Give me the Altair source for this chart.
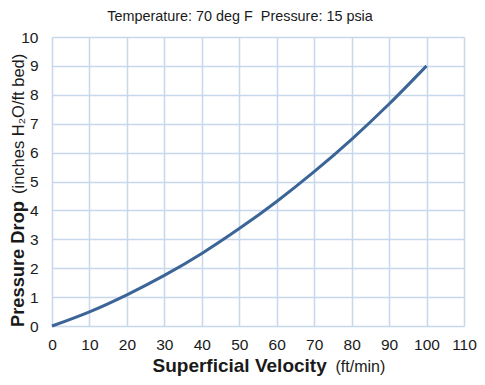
import altair as alt
import pandas as pd

# Data
velocity = [0, 10, 20, 30, 40, 50, 60, 70, 80, 90, 100]
pressure_drop = [0.0, 0.49, 1.08, 1.75, 2.51, 3.37, 4.31, 5.34, 6.46, 7.68, 9.0]
x_ticks = list(range(0, 111, 10))
y_ticks = list(range(0, 11, 1))

title_text = "Temperature: 70 deg F \u00a0Pressure: 15 psia"
y_title_bold = "Pressure Drop"
y_title_reg = "(inches H\u2082O/ft bed)"
x_title_bold = "Superficial Velocity"
x_title_reg = "(ft/min)"

df = pd.DataFrame({"v": velocity, "dp": pressure_drop})

FONT = "Liberation Sans"
TXT = "#1a1a1a"

x_enc = alt.X("v:Q", scale=alt.Scale(domain=[0, 110], nice=False),
              axis=alt.Axis(values=x_ticks, title=None, grid=True, gridColor="#c8d8ec",
                            gridWidth=1.5, ticks=False, tickSize=0, domain=False,
                            labelFont=FONT, labelFontSize=15.5, labelColor=TXT,
                            labelPadding=11, labelFlush=False))
y_enc = alt.Y("dp:Q", scale=alt.Scale(domain=[0, 10], nice=False),
              axis=alt.Axis(values=y_ticks, title=None, grid=True, gridColor="#c8d8ec",
                            gridWidth=1.5, ticks=False, tickSize=0, domain=False,
                            labelFont=FONT, labelFontSize=15.5, labelColor=TXT,
                            labelPadding=14, labelFlush=False))

line = alt.Chart(df).mark_line(interpolate="monotone", strokeWidth=3, color="#3b6597").encode(
    x=x_enc, y=y_enc)

one = alt.Data(values=[{}])

def txt(text, x, y, size, bold=False, angle=0, align="left"):
    props = dict(text=text, font=FONT, fontSize=size, color=TXT, align=align,
                 baseline="alphabetic", fontWeight="bold" if bold else "normal")
    if angle:
        props["angle"] = angle
    return alt.Chart(one).mark_text(**props).encode(x=alt.value(x), y=alt.value(y))

layers = [
    line,
    txt(title_text, 188, -16.5, 14.4, align="center"),
    txt(y_title_bold, -28.5, 290, 18.3, bold=True, angle=270),
    txt(y_title_reg, -28.5, 157, 16.5, angle=270),
    txt(x_title_bold, 100.5, 335, 19, bold=True),
    txt(x_title_reg, 283.5, 335, 16),
]

chart = alt.layer(*layers).properties(
    width=412, height=289, autosize="none",
    padding={"left": 44, "top": 29, "right": 13, "bottom": 51},
).configure_view(stroke="#7f97b9", strokeWidth=1.5).configure(background="white")

chart.save("out.html", embed_options={"renderer": "svg", "actions": False})
